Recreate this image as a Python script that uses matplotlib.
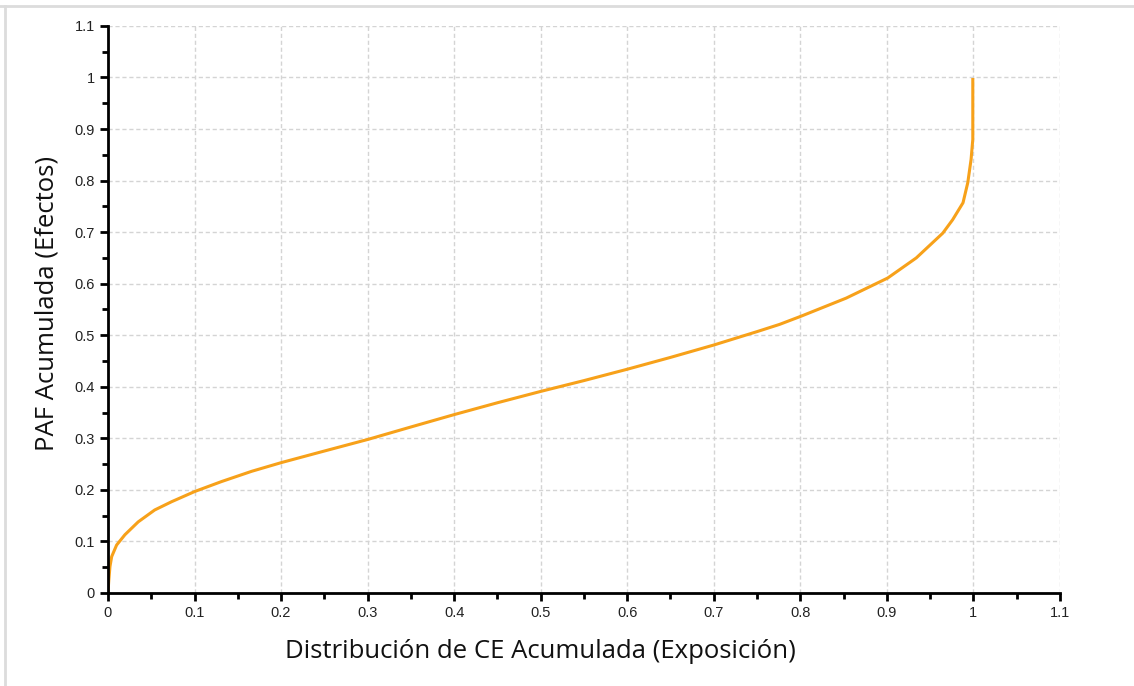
import matplotlib.pyplot as plt
from matplotlib.ticker import MultipleLocator
from matplotlib.lines import Line2D

# cumulative CE distribution (exposure) vs cumulative PAF (effects)
ce_acum = [0.0, 0.001, 0.0023, 0.0043, 0.010, 0.0196, 0.035, 0.054, 0.0735,
           0.1005, 0.131, 0.166, 0.2005, 0.247, 0.3006, 0.35, 0.40, 0.45, 0.50,
           0.55, 0.60, 0.65, 0.70, 0.75, 0.776, 0.801, 0.853, 0.901, 0.934,
           0.9646, 0.976, 0.988, 0.9935, 0.9973, 0.9993, 0.9993]
paf_acum = [0.0, 0.025, 0.051, 0.0705, 0.093, 0.113, 0.138, 0.161, 0.177,
            0.197, 0.216, 0.236, 0.253, 0.274, 0.298, 0.322, 0.346, 0.369, 0.391,
            0.412, 0.434, 0.457, 0.481, 0.507, 0.521, 0.537, 0.572, 0.611, 0.650,
            0.698, 0.724, 0.757, 0.796, 0.841, 0.880, 0.996]

fig = plt.figure(figsize=(11.34, 6.86), dpi=100)
ax = fig.add_axes([0.0952, 0.1356, 0.8395, 0.8266])

ax.plot(ce_acum, paf_acum, color="#F7A11A", linewidth=2.2, solid_joinstyle="round")

ax.set_xlim(0, 1.1)
ax.set_ylim(0, 1.1)
ax.xaxis.set_major_locator(MultipleLocator(0.1))
ax.xaxis.set_minor_locator(MultipleLocator(0.05))
ax.yaxis.set_major_locator(MultipleLocator(0.1))
ax.yaxis.set_minor_locator(MultipleLocator(0.05))

def fmt(v, pos):
    s = f"{v:.1f}"
    return s[:-2] if s.endswith(".0") else s

ax.xaxis.set_major_formatter(fmt)
ax.yaxis.set_major_formatter(fmt)

for side in ("top", "right"):
    ax.spines[side].set_visible(False)
for side in ("left", "bottom"):
    ax.spines[side].set_linewidth(2)
    ax.spines[side].set_color("black")

ax.tick_params(which="major", direction="out", length=6, width=2, color="black",
               labelsize=10.5, labelcolor="#222222")
ax.tick_params(which="minor", direction="out", length=4, width=2, color="black")
for lbl in ax.get_xticklabels() + ax.get_yticklabels():
    lbl.set_family("Liberation Sans")

ax.grid(True, which="major", color="#d4d4d4", linestyle=(0, (3, 2)), linewidth=1)
ax.set_axisbelow(True)

ax.set_xlabel("Distribución de CE Acumulada (Exposición)", fontsize=18.5,
              family="Open Sans", color="#111111")
ax.set_ylabel("PAF Acumulada (Efectos)", fontsize=18.5,
              family="Open Sans", color="#111111")
ax.xaxis.set_label_coords(0.5 / 1.1, -0.082)
ax.yaxis.set_label_coords(-0.051, 0.51)

# thin frame on the top and left edges of the figure
fig.add_artist(Line2D([0, 1], [0.991, 0.991], transform=fig.transFigure,
                      color="#dcdcdc", linewidth=2))
fig.add_artist(Line2D([0.0048, 0.0048], [0, 0.991], transform=fig.transFigure,
                      color="#dcdcdc", linewidth=2))

fig.savefig("out.png", dpi=100)
